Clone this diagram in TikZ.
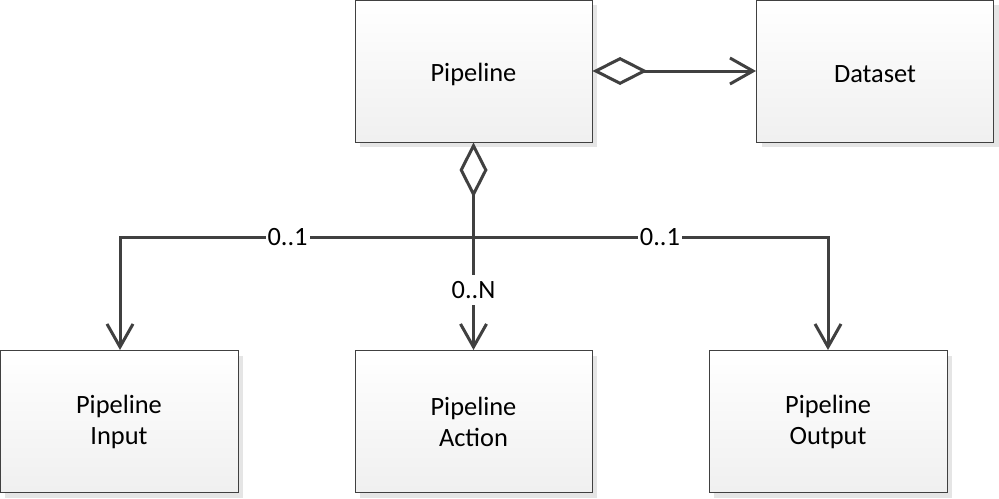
\documentclass[tikz,border=0pt]{standalone}
\usepackage{fontspec}
\setmainfont{Carlito}
\usetikzlibrary{arrows.meta,shadows}
\definecolor{ln}{HTML}{404040}
\begin{document}
\begin{tikzpicture}[x=0.5pt,y=-0.5pt,
  box/.style={draw=ln, line width=0.5pt, top color=white, bottom color=black!6,
    minimum width=118.5pt, minimum height=71pt, inner sep=0pt, align=center,
    font=\fontsize{13.2pt}{15.5pt}\selectfont,
    drop shadow={shadow xshift=2.5pt, shadow yshift=-2.5pt, fill=black!10, opacity=1}},
  conn/.style={draw=ln, line width=1.5pt},
  agg/.style={{Diamond[open,length=27.5pt,width=14pt]}-},
  nav/.style={-{Straight Barb[length=11.5pt,width=13pt]}},
  aggnav/.style={{Diamond[open,length=27.5pt,width=14pt]}-{Straight Barb[length=11.5pt,width=13pt]}},
  mult/.style={fill=white, inner sep=1pt, font=\fontsize{13.2pt}{15.5pt}\selectfont}]
\useasboundingbox (0,0) rectangle (999,498);
\node[box] (pipe) at (473.5,71) {\raisebox{-1.5pt}[\height][\depth]{Pipeline}};
\node[box] (data) at (875,71) {\raisebox{-1.5pt}[\height][\depth]{Dataset}};
\node[box, minimum width=119pt] (in) at (119,421.5) {Pipeline\\Input};
\node[box] (act) at (473.5,421.5) {Pipeline\\Action};
\node[box, minimum width=119pt] (out) at (828,421.5) {Pipeline\\Output};
\coordinate (j) at (473.5,237);
\draw[conn, aggnav] (pipe.east) -- (data.west);
\draw[conn, agg] (pipe.south) -- (j);
\draw[conn, nav] (j) -| node[mult, pos=0.263] {0..1} ([xshift=0.5pt]in.north);
\draw[conn, nav] (j) -| node[mult, pos=0.263] {0..1} (out.north);
\draw[conn, nav] (j) -- node[mult, pos=0.47, inner sep=3pt] {0..N} (act.north);
\end{tikzpicture}
\end{document}
